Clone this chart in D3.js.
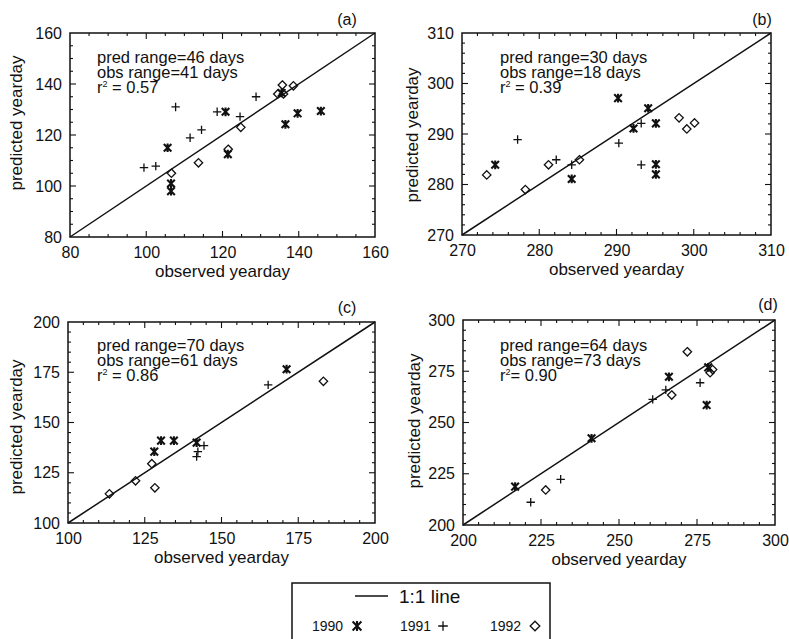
<!DOCTYPE html>
<html><head><meta charset="utf-8">
<script src="https://cdn.jsdelivr.net/npm/d3@7"></script>
<style>body{margin:0;background:#fff}svg{display:block;font-family:"Liberation Sans",Arial,Helvetica,sans-serif}</style>
</head><body><svg id="chart" width="789" height="639"></svg>
<script>
// ---------------- data (observed yearday, predicted yearday) ----------------
const a1990 = [[105.6,115],[106.5,101],[106.5,98],[120.8,129.1],[121.4,112.5],[135.5,136.5],[136.5,124.2],[139.7,128.5],[145.8,129.4]];
const a1991 = [[99.4,107.2],[102.5,107.8],[107.7,131],[111.5,118.9],[114.5,122],[118.6,129.1],[124.6,127.2],[128.8,135]];
const a1992 = [[106.6,105],[113.7,109.1],[121.5,114.4],[124.8,123],[134.5,136.1],[136,136.1],[135.7,139.6],[138.6,139.3]];

const b1990 = [[274.3,283.9],[290.2,297.1],[294.1,295.1],[292.2,291.1],[295.1,292.1],[295.1,284],[295.1,282],[284.2,281.1]];
const b1991 = [[277.2,288.9],[282.2,284.9],[284.2,283.9],[290.3,288.2],[293.2,292.1],[293.2,283.9]];
const b1992 = [[273.2,281.9],[278.2,279],[281.2,283.9],[285.2,284.9],[298.1,293.2],[299.1,291],[300.1,292.2]];

const c1990 = [[128.1,135.5],[130.3,141],[134.5,141],[141.9,140],[171.2,176.5]];
const c1991 = [[141.9,133],[142.3,135.5],[144.3,138.5],[165.2,168.7]];
const c1992 = [[113.5,114.5],[122,121],[127.3,129.5],[128.3,117.5],[183.2,170.5]];

const d1990 = [[216.7,218.7],[241.2,242.3],[266,272.3],[278.6,276.9],[278.1,258.5]];
const d1991 = [[221.7,211.1],[231.3,222.3],[260.8,261.3],[265,265.9],[276,269.4]];
const d1992 = [[226.5,217.1],[266.9,263.4],[271.9,284.5],[279.2,274.3],[280,275.8]];

const domainA = [80,160],  ticksA = [80,100,120,140,160];
const domainB = [270,310], ticksB = [270,280,290,300,310];
const domainC = [100,200], ticksC = [100,125,150,175,200];
const domainD = [200,300], ticksD = [200,225,250,275,300];

const labelsPanel = ["(a)","(b)","(c)","(d)"];
const predRange = [46,30,70,64];
const obsRange  = [41,18,61,73];
const r2        = ["0.57","0.39","0.86","0.90"];
const r2Sep     = [" = "," = "," = ","= "];
const years     = ["1990","1991","1992"];

// ---------------- layout ----------------
const panels = [
  {x0:70, x1:375, y0:33, y1:237, dom:domainA, ticks:ticksA, minor:5, sets:[a1990,a1991,a1992], tx:27, ty:30, ylx:22, ylc:123},
  {x0:462,x1:771, y0:33, y1:235, dom:domainB, ticks:ticksB, minor:2, sets:[b1990,b1991,b1992], tx:38, ty:30, ylx:418, ylc:135},
  {x0:68, x1:375, y0:322,y1:523, dom:domainC, ticks:ticksC, minor:5, sets:[c1990,c1991,c1992], tx:29, ty:29, ylx:22, ylc:427},
  {x0:463,x1:775, y0:320,y1:525, dom:domainD, ticks:ticksD, minor:5, sets:[d1990,d1991,d1992], tx:37, ty:31, ylx:420, ylc:421}
];
const panelLabelPos = [[347,25],[762,25],[347,313],[768,310]];

const svg = d3.select("#chart");
const ink = "#111";

const sym = {
  ast: h => `M${-h},${-h}L${h},${h}M${-h},${h}L${h},${-h}M0,${-h*1.15}L0,${h*1.15}`,
  plus: h => `M${-h},0L${h},0M0,${-h}L0,${h}`,
  dia: h => `M0,${-h}L${h},0L0,${h}L${-h},0Z`
};
const symKeys = ["ast","plus","dia"];
const symSize = [3.8,4.2,4.2];
const symWidth = [2.1,1.3,1.3];

panels.forEach((p,i) => {
  const x = d3.scaleLinear().domain(p.dom).range([p.x0,p.x1]);
  const y = d3.scaleLinear().domain(p.dom).range([p.y1,p.y0]);
  const g = svg.append("g");

  // frame
  g.append("rect").attr("x",p.x0).attr("y",p.y0).attr("width",p.x1-p.x0).attr("height",p.y1-p.y0)
    .attr("fill","none").attr("stroke",ink).attr("stroke-width",1.5);

  // ticks (major + minor) on all four sides, pointing inward
  const minors = d3.range(p.dom[0], p.dom[1]+0.001, p.minor).filter(v => !p.ticks.includes(v));
  const drawTicks = (vals, len) => {
    vals.forEach(v => {
      g.append("line").attr("x1",x(v)).attr("x2",x(v)).attr("y1",p.y1).attr("y2",p.y1-len).attr("stroke",ink).attr("stroke-width",1.1);
      g.append("line").attr("x1",x(v)).attr("x2",x(v)).attr("y1",p.y0).attr("y2",p.y0+len).attr("stroke",ink).attr("stroke-width",1.1);
      g.append("line").attr("y1",y(v)).attr("y2",y(v)).attr("x1",p.x0).attr("x2",p.x0+len).attr("stroke",ink).attr("stroke-width",1.1);
      g.append("line").attr("y1",y(v)).attr("y2",y(v)).attr("x1",p.x1).attr("x2",p.x1-len).attr("stroke",ink).attr("stroke-width",1.1);
    });
  };
  drawTicks(p.ticks.slice(1,-1), 6);
  drawTicks(minors, 3);

  // tick labels via d3 axes
  const xa = g.append("g").attr("transform",`translate(0,${p.y1})`)
    .call(d3.axisBottom(x).tickValues(p.ticks).tickSize(0).tickPadding(10).tickFormat(d3.format("d")));
  const ya = g.append("g").attr("transform",`translate(${p.x0},0)`)
    .call(d3.axisLeft(y).tickValues(p.ticks).tickSize(0).tickPadding(8).tickFormat(d3.format("d")));
  [xa,ya].forEach(a => {
    a.select(".domain").remove();
    a.attr("font-family",null).attr("font-size",null);
    a.selectAll("text").attr("font-size",16).attr("fill",ink);
  });

  // 1:1 line
  g.append("line").attr("x1",x(p.dom[0])).attr("y1",y(p.dom[0])).attr("x2",x(p.dom[1])).attr("y2",y(p.dom[1]))
    .attr("stroke",ink).attr("stroke-width",1.5);

  // points
  p.sets.forEach((set,k) => {
    g.selectAll(null).data(set).enter().append("path")
      .attr("d", sym[symKeys[k]](symSize[k]))
      .attr("transform", d => `translate(${x(d[0])},${y(d[1])})`)
      .attr("fill","none").attr("stroke",ink).attr("stroke-width",symWidth[k]);
  });

  // annotation
  const t = g.append("text").attr("x",p.x0+p.tx).attr("y",p.y0+p.ty).attr("font-size",16.5).attr("fill",ink);
  t.append("tspan").attr("x",p.x0+p.tx).text(`pred range=${predRange[i]} days`);
  t.append("tspan").attr("x",p.x0+p.tx).attr("dy",15).text(`obs range=${obsRange[i]} days`);
  t.append("tspan").attr("x",p.x0+p.tx).attr("dy",15).text("r");
  t.append("tspan").attr("dy",-6).attr("font-size",9).text("2");
  t.append("tspan").attr("dy",6).text(`${r2Sep[i]}${r2[i]}`);

  // axis titles
  g.append("text").attr("x",(p.x0+p.x1)/2).attr("y",p.y1+40).attr("text-anchor","middle")
    .attr("font-size",17).attr("fill",ink).text("observed yearday");
  g.append("text").attr("transform",`translate(${p.ylx},${p.ylc}) rotate(-90)`).attr("text-anchor","middle")
    .attr("font-size",17).attr("fill",ink).text("predicted yearday");

  // panel label
  g.append("text").attr("x",panelLabelPos[i][0]).attr("y",panelLabelPos[i][1]).attr("text-anchor","middle")
    .attr("font-size",16).attr("fill",ink).text(labelsPanel[i]);
});

// ---------------- legend ----------------
const lg = svg.append("g");
lg.append("path").attr("d","M292,645L292,583L550,583L550,645").attr("fill","none").attr("stroke",ink).attr("stroke-width",1.5);
lg.append("line").attr("x1",355).attr("x2",388).attr("y1",596).attr("y2",596).attr("stroke",ink).attr("stroke-width",1.5);
lg.append("text").attr("x",399).attr("y",603).attr("font-size",19).attr("fill",ink).text("1:1 line");
const legX = [312,400,490], legSym = [357,443,535];
years.forEach((yr,k) => {
  lg.append("text").attr("x",legX[k]).attr("y",631).attr("font-size",14).attr("fill",ink).text(yr);
  lg.append("path").attr("d",sym[symKeys[k]](symSize[k]+0.6)).attr("transform",`translate(${legSym[k]},626)`)
    .attr("fill","none").attr("stroke",ink).attr("stroke-width",symWidth[k]);
});
</script></body></html>
